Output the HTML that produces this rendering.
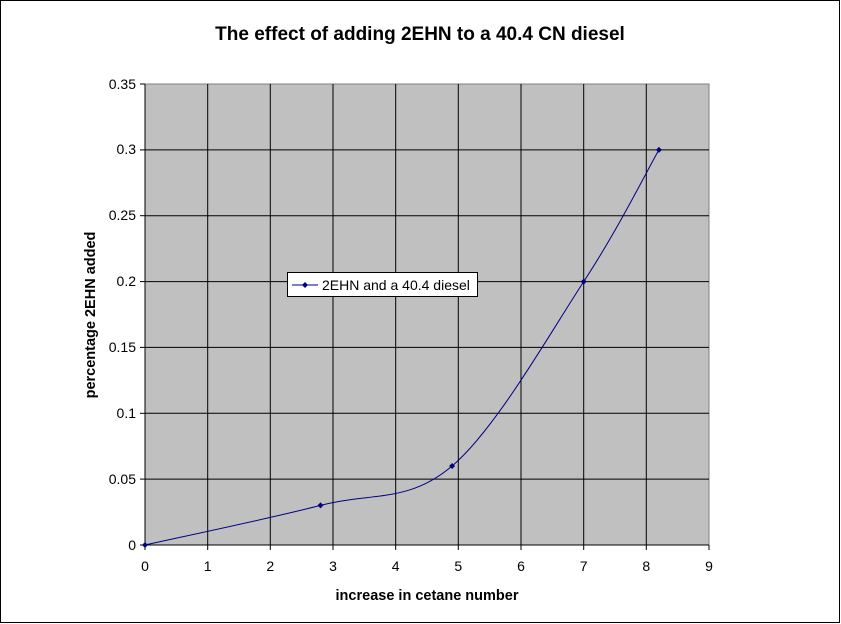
<!DOCTYPE html>
<html><head><style>body{margin:0;background:#fff}svg{display:block}</style></head><body>
<svg width="841" height="624" xmlns="http://www.w3.org/2000/svg" font-family="Liberation Sans, Arial, sans-serif">
<rect x="0.5" y="0.5" width="839" height="622" fill="#fff" stroke="#000"/>
<text x="420" y="40" text-anchor="middle" font-size="19" font-weight="bold">The effect of adding 2EHN to a 40.4 CN diesel</text>
<rect x="145" y="84" width="564" height="461" fill="#c0c0c0" stroke="#808080"/>
<g stroke="#000" stroke-width="1">
<line x1="145" y1="479.1" x2="709" y2="479.1"/><line x1="145" y1="413.3" x2="709" y2="413.3"/>
<line x1="145" y1="347.4" x2="709" y2="347.4"/><line x1="145" y1="281.6" x2="709" y2="281.6"/>
<line x1="145" y1="215.7" x2="709" y2="215.7"/><line x1="145" y1="149.9" x2="709" y2="149.9"/>
<line x1="207.7" y1="84" x2="207.7" y2="545"/><line x1="270.3" y1="84" x2="270.3" y2="545"/>
<line x1="333" y1="84" x2="333" y2="545"/><line x1="395.7" y1="84" x2="395.7" y2="545"/>
<line x1="458.3" y1="84" x2="458.3" y2="545"/><line x1="521" y1="84" x2="521" y2="545"/>
<line x1="583.7" y1="84" x2="583.7" y2="545"/><line x1="646.3" y1="84" x2="646.3" y2="545"/>
<line x1="145" y1="84" x2="145" y2="545"/><line x1="145" y1="545" x2="709" y2="545"/>
<g>
<line x1="140" y1="545" x2="145" y2="545"/><line x1="140" y1="479.1" x2="145" y2="479.1"/><line x1="140" y1="413.3" x2="145" y2="413.3"/><line x1="140" y1="347.4" x2="145" y2="347.4"/><line x1="140" y1="281.6" x2="145" y2="281.6"/><line x1="140" y1="215.7" x2="145" y2="215.7"/><line x1="140" y1="149.9" x2="145" y2="149.9"/><line x1="140" y1="84" x2="145" y2="84"/>
<line x1="145" y1="545" x2="145" y2="550"/><line x1="207.7" y1="545" x2="207.7" y2="550"/><line x1="270.3" y1="545" x2="270.3" y2="550"/><line x1="333" y1="545" x2="333" y2="550"/><line x1="395.7" y1="545" x2="395.7" y2="550"/><line x1="458.3" y1="545" x2="458.3" y2="550"/><line x1="521" y1="545" x2="521" y2="550"/><line x1="583.7" y1="545" x2="583.7" y2="550"/><line x1="646.3" y1="545" x2="646.3" y2="550"/><line x1="709" y1="545" x2="709" y2="550"/>
</g></g>
<g font-size="14" text-anchor="end">
<text x="136" y="550">0</text><text x="136" y="484">0.05</text><text x="136" y="418">0.1</text><text x="136" y="352">0.15</text><text x="136" y="286">0.2</text><text x="136" y="220">0.25</text><text x="136" y="154">0.3</text><text x="136" y="89">0.35</text>
</g>
<g font-size="14" text-anchor="middle">
<text x="145" y="571">0</text><text x="207.7" y="571">1</text><text x="270.3" y="571">2</text><text x="333" y="571">3</text><text x="395.7" y="571">4</text><text x="458.3" y="571">5</text><text x="521" y="571">6</text><text x="583.7" y="571">7</text><text x="646.3" y="571">8</text><text x="709" y="571">9</text>
</g>
<text x="427" y="600" text-anchor="middle" font-size="14.5" font-weight="bold">increase in cetane number</text>
<text transform="translate(95,315) rotate(-90)" text-anchor="middle" font-size="14.5" font-weight="bold">percentage 2EHN added</text>
<path d="M145,545 C174.25,538.4 269.3,518.6 320.5,505.4 C371.7,492.2 408.2,503.3 452.1,466 C496,428.7 549.2,334.3 583.7,281.6 C618.2,228.9 646.4,171.9 658.9,149.9" fill="none" stroke="#000080" stroke-width="1"/>
<g fill="#000080">
<path d="M145,542 l3,3 l-3,3 l-3,-3z"/><path d="M320.5,502.4 l3,3 l-3,3 l-3,-3z"/><path d="M452.1,463 l3,3 l-3,3 l-3,-3z"/><path d="M583.7,278.6 l3,3 l-3,3 l-3,-3z"/><path d="M658.9,146.9 l3,3 l-3,3 l-3,-3z"/>
</g>
<rect x="287.5" y="272.5" width="190" height="24" fill="#fff" stroke="#000"/>
<line x1="292" y1="285" x2="318" y2="285" stroke="#000080"/>
<path d="M305,282 l3,3 l-3,3 l-3,-3z" fill="#000080"/>
<text x="322" y="290" font-size="14">2EHN and a 40.4 diesel</text>
</svg>
</body></html>
